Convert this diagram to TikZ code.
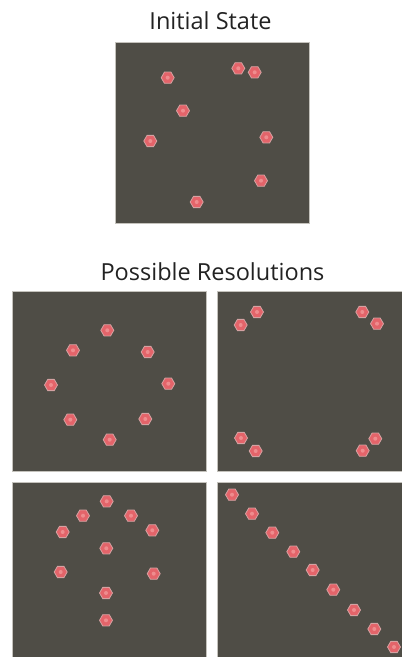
\documentclass[tikz,border=0pt]{standalone}
\usepackage{fontspec}
\setmainfont{Open Sans}
\usetikzlibrary{shapes.geometric}
\definecolor{boardgrey}{HTML}{4F4D46}
\definecolor{boardedge}{HTML}{C4C2BC}
\definecolor{tokenred}{HTML}{E4646A}
\definecolor{tokenedge}{HTML}{D4A2A2}
\definecolor{tokencore}{HTML}{EE8C8E}
\definecolor{titlegrey}{HTML}{222222}
\begin{document}
\begin{tikzpicture}[x=1pt, y=-1pt,
    board/.style={fill=boardgrey, draw=boardedge, line width=0.8pt},
    token/.style={regular polygon, regular polygon sides=6, minimum size=13pt, inner sep=0pt,
        fill=tokenred, draw=tokenedge, line width=0.8pt,
        path picture={\fill[tokencore] (path picture bounding box.center) circle (2pt);}},
    heading/.style={font=\fontsize{23.5}{28}\selectfont, text=titlegrey, anchor=base}
]
\useasboundingbox (0,0) rectangle (402,657);
\clip (0,0) rectangle (402,657);

% Initial state
\node[heading] (initTitle) at (210.5,29.3) {Initial State};
\draw[board] (115,42) rectangle (309,223);
\foreach \x/\y [count=\k] in {167.7/77.7, 238.3/68.3, 254.7/72.3, 183/110.7,
    150.3/141, 266.3/137.3, 261/180.7, 196.7/202}
  \node[token] (init\k) at (\x,\y) {};

% Resolutions
\node[heading] (resTitle) at (212.5,280) {Possible Resolutions};
\draw[board] (12,291) rectangle (206,471);
\draw[board] (217,291) rectangle (410,471);
\draw[board] (12,482) rectangle (206,665);
\draw[board] (217,482) rectangle (410,665);

% Ring
\foreach \x/\y [count=\k] in {107.3/330.3, 73/350.3, 147.7/352, 51/385,
    168.3/383.7, 70.3/419.7, 145.3/419, 109.7/439.7}
  \node[token] (ring\k) at (\x,\y) {};

% Corners
\foreach \x/\y [count=\k] in {257/312, 240.7/325, 362.3/312, 377/323.7,
    241/438, 255.7/451, 375.3/438.7, 362.7/450.7}
  \node[token] (corner\k) at (\x,\y) {};

% Arrow shape
\foreach \x/\y [count=\k] in {106.7/501.3, 83/515.7, 131/515.7, 62.7/532,
    152.3/530.3, 106.3/548.3, 60.7/572, 153.7/573.7, 106/593, 106/620.3}
  \node[token] (peak\k) at (\x,\y) {};

% Diagonal
\foreach \x/\y [count=\k] in {232/494.7, 252/513.7, 272.3/532.7, 293.3/551.7,
    312.7/570, 333.3/589.7, 354/610, 374.3/629, 394/647}
  \node[token] (diag\k) at (\x,\y) {};

\end{tikzpicture}
\end{document}
